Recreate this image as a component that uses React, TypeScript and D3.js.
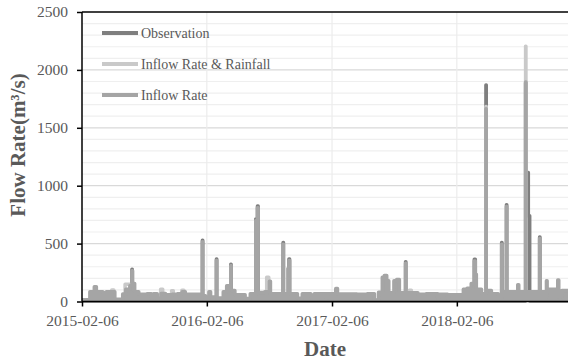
import * as d3 from "d3";
import { useEffect, useRef } from "react";

// step series: [start date, value] (m3/s)
const inflowRate: [string, number][] = [
  ["2015-02-06", 15], ["2015-03-01", 85], ["2015-03-14", 128], ["2015-03-20", 85],
  ["2015-04-08", 75], ["2015-04-18", 85], ["2015-05-13", 20], ["2015-06-05", 65],
  ["2015-06-14", 105], ["2015-06-26", 135], ["2015-07-02", 265], ["2015-07-04", 155],
  ["2015-07-10", 85], ["2015-07-22", 62], ["2015-08-15", 68], ["2015-08-28", 28],
  ["2015-09-03", 66], ["2015-09-14", 28], ["2015-09-25", 70], ["2015-10-08", 58],
  ["2015-10-28", 62], ["2015-11-12", 66], ["2015-11-26", 85], ["2015-12-05", 62],
  ["2016-01-24", 515], ["2016-01-25", 50], ["2016-02-02", 30], ["2016-02-12", 85],
  ["2016-02-17", 38], ["2016-03-05", 355], ["2016-03-06", 30], ["2016-03-25", 85],
  ["2016-04-04", 135], ["2016-04-10", 105], ["2016-04-16", 310], ["2016-04-17", 95],
  ["2016-04-28", 58], ["2016-05-28", 25], ["2016-06-12", 66], ["2016-06-28", 700],
  ["2016-06-30", 66], ["2016-07-03", 810], ["2016-07-05", 78], ["2016-07-24", 85],
  ["2016-08-07", 175], ["2016-08-10", 66], ["2016-09-16", 495], ["2016-09-17", 66],
  ["2016-09-30", 285], ["2016-10-03", 355], ["2016-10-05", 66], ["2016-10-28", 28],
  ["2016-11-11", 66], ["2016-12-06", 28], ["2016-12-16", 66], ["2017-01-20", 28],
  ["2017-01-24", 66], ["2017-02-17", 112], ["2017-02-22", 64], ["2017-04-20", 62],
  ["2017-05-20", 66], ["2017-06-10", 12], ["2017-06-22", 80], ["2017-07-03", 210],
  ["2017-07-09", 225], ["2017-07-16", 180], ["2017-07-22", 76], ["2017-08-06", 180],
  ["2017-08-14", 190], ["2017-08-22", 76], ["2017-09-09", 330], ["2017-09-10", 76],
  ["2017-10-15", 62], ["2017-11-08", 66], ["2017-12-12", 28], ["2017-12-16", 62],
  ["2018-01-10", 28], ["2018-01-13", 58], ["2018-02-25", 105], ["2018-03-08", 115],
  ["2018-03-20", 155], ["2018-03-29", 350], ["2018-04-01", 235], ["2018-04-04", 105],
  ["2018-04-19", 66], ["2018-05-02", 1665], ["2018-05-03", 95], ["2018-05-18", 66],
  ["2018-06-07", 12], ["2018-06-17", 495], ["2018-06-18", 85], ["2018-07-01", 820],
  ["2018-07-02", 85], ["2018-08-03", 145], ["2018-08-06", 85], ["2018-08-26", 1895],
  ["2018-08-27", 85], ["2018-10-06", 545], ["2018-10-07", 85], ["2018-10-20", 38],
  ["2018-10-26", 180], ["2018-10-28", 105], ["2018-11-28", 185], ["2018-12-01", 38],
  ["2018-12-10", 95], ["2018-12-31", 85],
];

const inflowRainfall: [string, number][] = [
  ["2015-02-06", 10], ["2015-05-04", 100], ["2015-05-10", 10], ["2015-06-12", 150],
  ["2015-06-26", 10], ["2015-09-24", 105], ["2015-09-30", 10], ["2015-10-26", 92],
  ["2015-10-31", 10], ["2015-11-25", 97], ["2015-12-01", 10], ["2016-07-30", 210],
  ["2016-08-05", 10], ["2017-09-20", 97], ["2017-09-26", 10], ["2018-05-02", 1685],
  ["2018-05-03", 10], ["2018-08-26", 2205], ["2018-08-27", 10], ["2018-12-31", 10],
];

const observation: [string, number][] = [
  ["2015-02-06", 5], ["2015-07-02", 278], ["2015-07-03", 5], ["2016-01-24", 530],
  ["2016-01-25", 5], ["2016-03-05", 368], ["2016-03-06", 5], ["2016-04-16", 322],
  ["2016-04-17", 5], ["2016-06-28", 712], ["2016-06-30", 5], ["2016-07-03", 825],
  ["2016-07-05", 5], ["2016-09-16", 510], ["2016-09-17", 5], ["2016-10-03", 368],
  ["2016-10-05", 5], ["2017-09-09", 343], ["2017-09-10", 5], ["2018-03-29", 365],
  ["2018-04-01", 5], ["2018-05-02", 1870], ["2018-05-03", 5], ["2018-06-17", 510],
  ["2018-06-18", 5], ["2018-07-01", 835], ["2018-07-02", 5], ["2018-08-26", 1890],
  ["2018-08-27", 1115], ["2018-09-03", 740], ["2018-09-07", 5], ["2018-10-06", 558],
  ["2018-10-07", 5], ["2018-12-31", 5],
];

const xTicks = ["2015-02-06", "2016-02-06", "2017-02-06", "2018-02-06"];
const yTicks = [0, 500, 1000, 1500, 2000, 2500];
const legendNames = ["Observation", "Inflow Rate & Rainfall", "Inflow Rate"];
const colors = ["#7f7f7f", "#c9c9c9", "#a5a5a5"];

const W = 568, H = 360;
const font = "'Liberation Serif', 'Times New Roman', serif";
const textColor = "#595959";

const App = () => {
  const ref = useRef<SVGSVGElement>(null);

  useEffect(() => {
    const svg = d3.select(ref.current);
    svg.selectAll("*").remove();
    const parse = d3.timeParse("%Y-%m-%d");
    const left = 82, top = 12, bottom = 301.5, right = 568;

    const x = d3.scaleTime()
      .domain([parse("2015-02-06")!, parse("2018-12-28")!])
      .range([left, right]);
    const y = d3.scaleLinear().domain([0, 2500]).range([bottom, top]);

    svg.append("rect").attr("width", W).attr("height", H).attr("fill", "#fff");

    // gridlines
    const grid = svg.append("g");
    grid.selectAll("line.minor")
      .data(d3.range(100, 2500, 100))
      .join("line")
      .attr("x1", left).attr("x2", right)
      .attr("y1", (d) => y(d)).attr("y2", (d) => y(d))
      .attr("stroke", (d) => (d % 500 === 0 ? "#d9d9d9" : "#efefef"))
      .attr("stroke-width", 1.2);
    grid.selectAll("line.vert")
      .data(xTicks.slice(1))
      .join("line")
      .attr("x1", (d) => x(parse(d)!)).attr("x2", (d) => x(parse(d)!))
      .attr("y1", top).attr("y2", bottom)
      .attr("stroke", "#ececec")
      .attr("stroke-width", 1.2);

    svg.append("clipPath").attr("id", "plotClip")
      .append("rect").attr("x", left).attr("y", top - 2)
      .attr("width", right - left).attr("height", bottom - top + 4);

    const plot = svg.append("g").attr("clip-path", "url(#plotClip)");
    const line = d3.line<[string, number]>()
      .x((d) => x(parse(d[0])!))
      .y((d) => y(d[1]))
      .curve(d3.curveStepAfter);
    const area = d3.area<[string, number]>()
      .x((d) => x(parse(d[0])!))
      .y0(y(0))
      .y1((d) => y(d[1]))
      .curve(d3.curveStepAfter);

    const drawLine = (data: [string, number][], color: string) =>
      plot.append("path").datum(data)
        .attr("d", line).attr("fill", "none")
        .attr("stroke", color).attr("stroke-width", 3.5)
        .attr("stroke-linejoin", "round");

    drawLine(observation, colors[0]);
    drawLine(inflowRainfall, colors[1]);
    plot.append("path").datum(inflowRate)
      .attr("d", area).attr("fill", colors[2]);
    drawLine(inflowRate, colors[2]);

    // axes
    const yAxis = svg.append("g")
      .attr("transform", `translate(${left},0)`)
      .call(d3.axisLeft(y).tickValues(yTicks).tickFormat(d3.format("d")).tickSize(5).tickPadding(9));
    const xAxis = svg.append("g")
      .attr("transform", `translate(0,${bottom})`)
      .call(
        d3.axisBottom(x)
          .tickValues(xTicks.map((d) => parse(d)!))
          .tickFormat(d3.timeFormat("%Y-%m-%d") as any)
          .tickSize(5).tickPadding(8)
      );
    [yAxis, xAxis].forEach((g) => {
      g.select(".domain").attr("stroke", "#000").attr("stroke-width", 1.5);
      g.selectAll(".tick line").attr("stroke", "#000").attr("stroke-width", 1.5);
      g.selectAll(".tick text")
        .attr("fill", textColor)
        .style("font-family", font)
        .style("font-size", "15.5px");
    });
    xAxis.select(".domain").attr("d", `M${left},0H${right}`);
    yAxis.select(".domain").attr("d", `M0,${top}V${bottom}`);

    svg.append("line")
      .attr("x1", left).attr("x2", right).attr("y1", top).attr("y2", top)
      .attr("stroke", "#000").attr("stroke-width", 1.5);

    // axis titles
    svg.append("text")
      .attr("x", 325).attr("y", 356)
      .attr("text-anchor", "middle")
      .attr("fill", textColor)
      .style("font-family", font).style("font-size", "21px").style("font-weight", "bold")
      .text("Date");
    svg.append("text")
      .attr("transform", "translate(25,145) rotate(-90)")
      .attr("text-anchor", "middle")
      .attr("fill", textColor)
      .style("font-family", font).style("font-size", "21px").style("font-weight", "bold")
      .text("Flow Rate(m³/s)");

    // legend
    const legend = svg.append("g")
      .selectAll("g")
      .data(legendNames)
      .join("g")
      .attr("transform", (d, i) => `translate(102,${33 + i * 31})`);
    legend.append("line")
      .attr("x1", 0).attr("x2", 36)
      .attr("stroke", (d, i) => colors[i]).attr("stroke-width", 4);
    legend.append("text")
      .attr("x", 39).attr("y", 5)
      .attr("fill", textColor)
      .style("font-family", font).style("font-size", "14px")
      .text((d) => d);
  });

  return (
    <svg
      ref={ref}
      width={W}
      height={H}
      style={{ position: "absolute", left: 0, top: 0 }}
    />
  );
};

export default App;
